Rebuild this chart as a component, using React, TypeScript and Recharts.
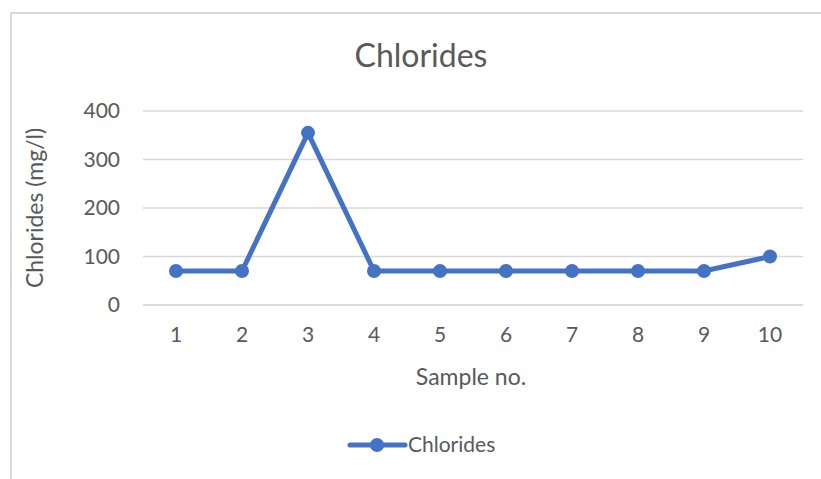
import { LineChart, Line, XAxis, YAxis, CartesianGrid } from "recharts";

const SAMPLES = ["1", "2", "3", "4", "5", "6", "7", "8", "9", "10"];
const CHLORIDES = [70, 70, 355, 70, 70, 70, 70, 70, 70, 100];
const Y_TICKS = [0, 100, 200, 300, 400];
const SERIES_NAME = "Chlorides";

const data = SAMPLES.map((s, i) => ({ sample: s, chlorides: CHLORIDES[i] }));

const BLUE = "#4472C4";
const TEXT = "#595959";
const GRID = "#d9d9d9";
const FONT = "Lato, 'Noto Sans', sans-serif";

export default function App() {
  return (
    <div
      style={{
        position: "absolute",
        left: 0,
        top: 0,
        width: 821,
        height: 479,
        overflow: "hidden",
        background: "#fff",
        fontFamily: FONT,
      }}
    >
      <div
        style={{
          position: "absolute",
          left: 10,
          top: 12,
          width: 840,
          height: 500,
          border: `2px solid ${GRID}`,
        }}
      />
      <LineChart
        width={821}
        height={479}
        data={data}
        margin={{ top: 111, right: 18, bottom: 144, left: 83 }}
        style={{ position: "absolute", left: 0, top: 0 }}
      >
        <CartesianGrid vertical={false} stroke={GRID} strokeWidth={1.3} />
        <XAxis
          dataKey="sample"
          height={30}
          padding={{ left: 33, right: 33 }}
          axisLine={{ stroke: GRID, strokeWidth: 1.3 }}
          tickLine={false}
          tickSize={0}
          tickMargin={22}
          tick={{ fill: TEXT, fontSize: 21, fontFamily: FONT }}
        />
        <YAxis
          width={60}
          domain={[0, 400]}
          ticks={Y_TICKS}
          axisLine={false}
          tickLine={false}
          tickSize={0}
          tickMargin={23}
          tick={{ fill: TEXT, fontSize: 21, fontFamily: FONT }}
        />
        <Line
          type="linear"
          dataKey="chlorides"
          name={SERIES_NAME}
          stroke={BLUE}
          strokeWidth={5}
          dot={{ r: 7, fill: BLUE, stroke: BLUE, strokeWidth: 0 }}
          isAnimationActive={false}
        />
      </LineChart>
      <svg
        width={821}
        height={479}
        style={{ position: "absolute", left: 0, top: 0, pointerEvents: "none" }}
      >
        <text x={421} y={67} textAnchor="middle" fill={TEXT} fontSize={32} fontFamily={FONT}>
          Chlorides
        </text>
        <text x={471} y={385} textAnchor="middle" fill={TEXT} fontSize={23} fontFamily={FONT}>
          Sample no.
        </text>
        <text
          x={0}
          y={0}
          transform="translate(43, 208) rotate(-90)"
          textAnchor="middle"
          fill={TEXT}
          fontSize={23}
          fontFamily={FONT}
        >
          Chlorides (mg/l)
        </text>
        <line x1={350} y1={445} x2={405} y2={445} stroke={BLUE} strokeWidth={5} strokeLinecap="round" />
        <circle cx={377} cy={445} r={7} fill={BLUE} />
        <text x={408} y={452} fill={TEXT} fontSize={21} fontFamily={FONT}>
          {SERIES_NAME}
        </text>
      </svg>
    </div>
  );
}
